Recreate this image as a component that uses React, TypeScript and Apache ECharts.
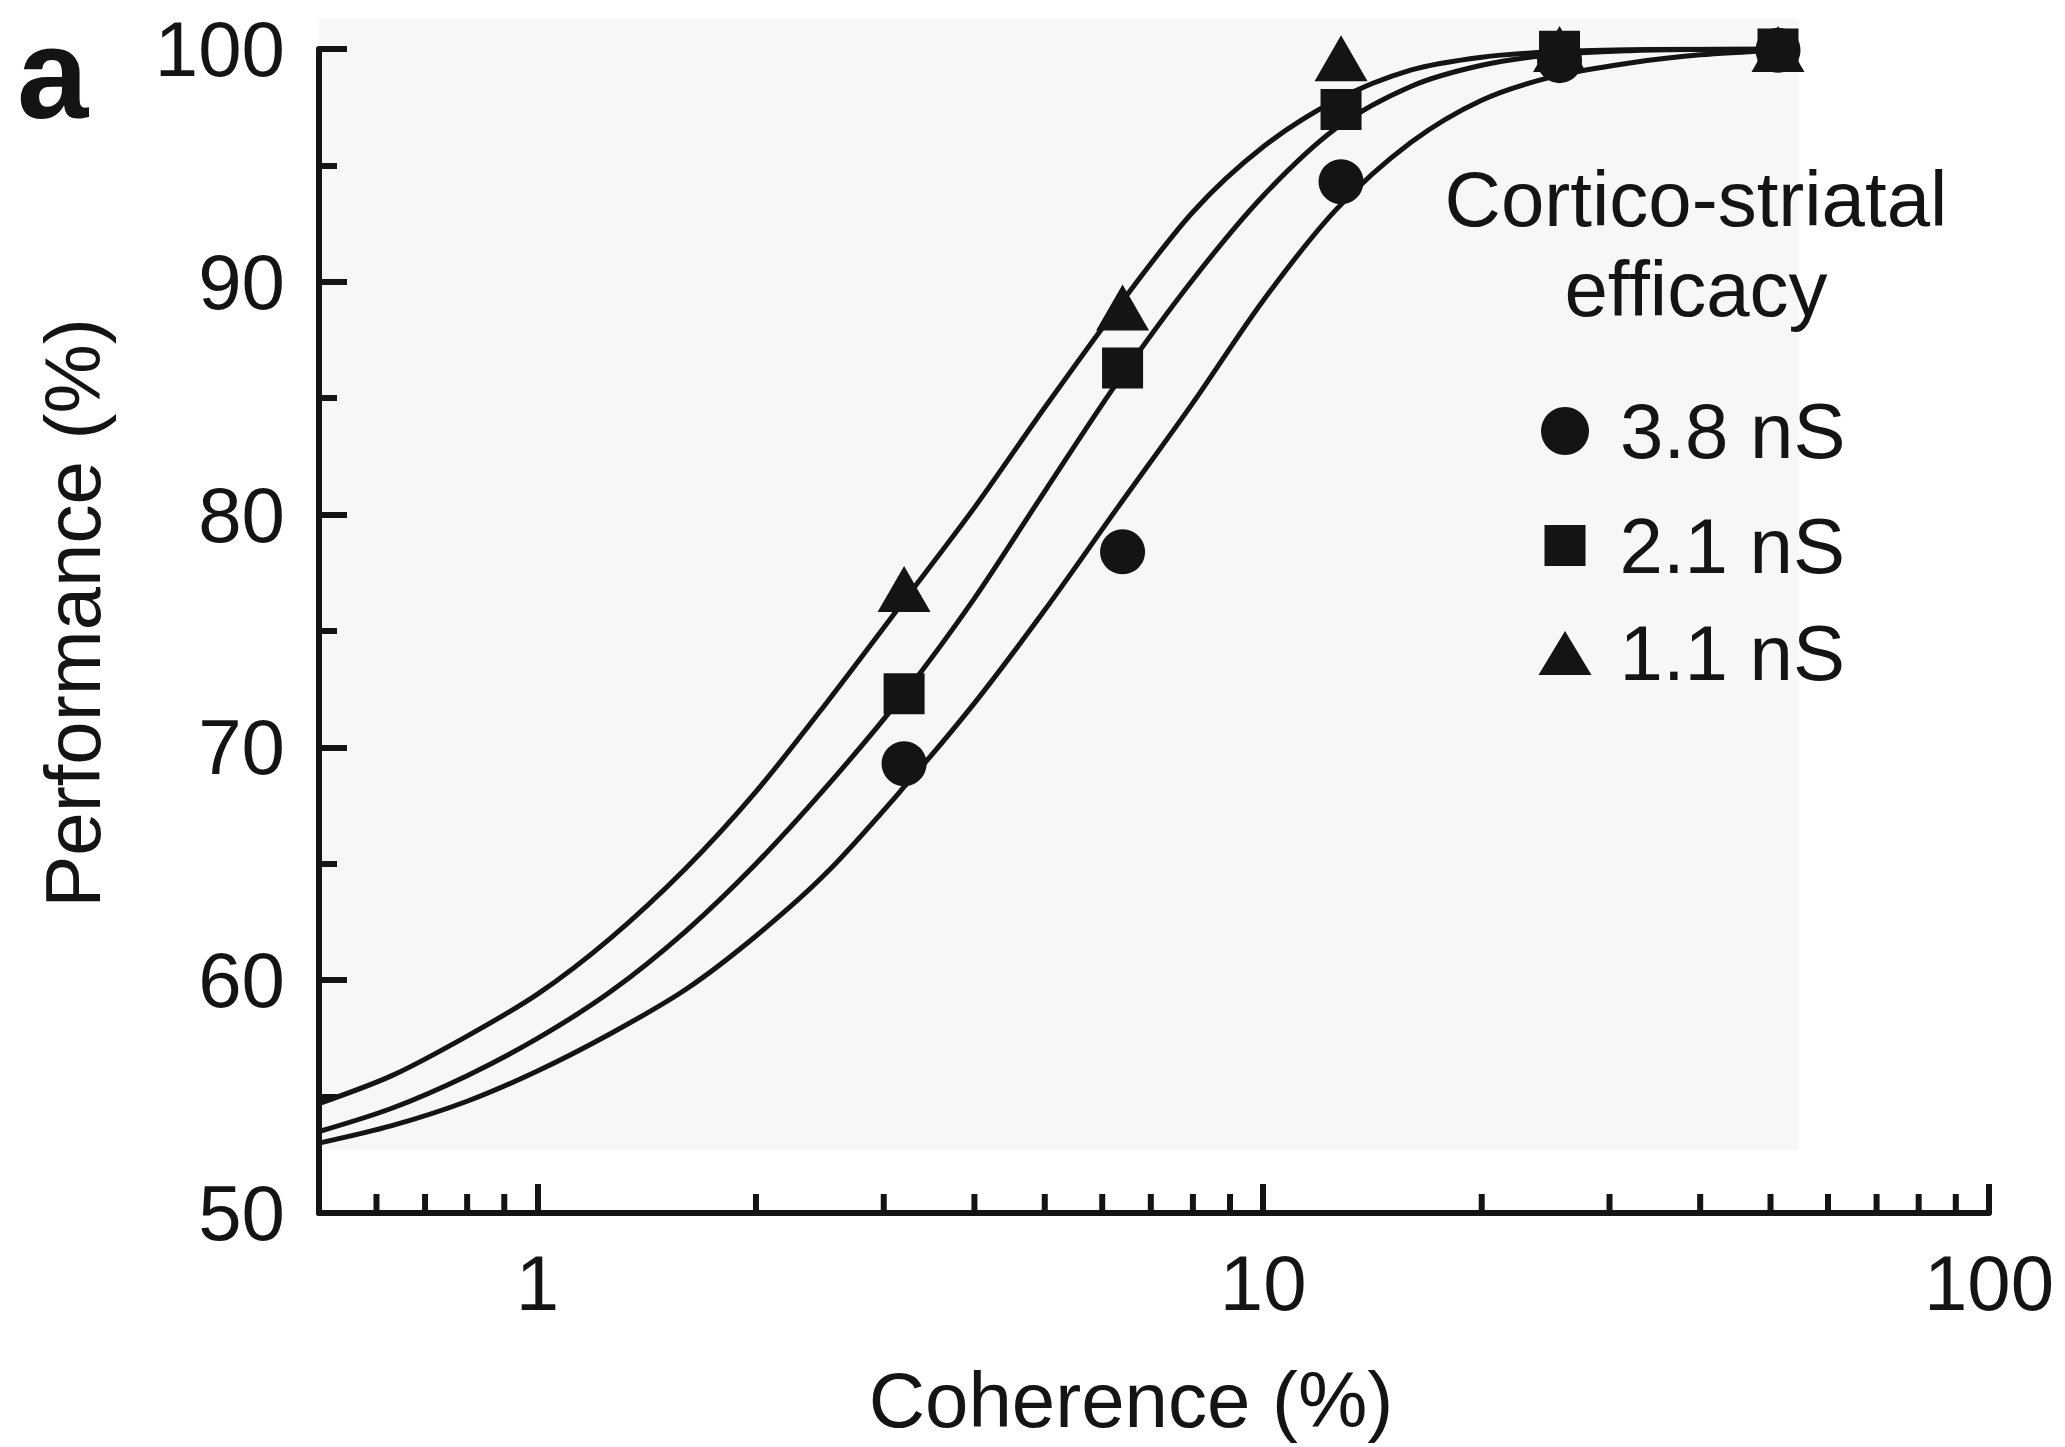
import React, { useEffect, useRef } from 'react';
import * as echarts from 'echarts';

// ---- data ----
const coherence = [3.2, 6.4, 12.8, 25.6, 51.2];
const perf38 = [69.3, 78.4, 94.3, 99.5, 99.95];
const perf21 = [72.3, 86.3, 97.4, 99.9, 100];
const perf11 = [76.8, 88.9, 99.6, 100, 100];

// fitted curves: points
const fitX = [0.5, 0.63, 0.8, 1, 1.26, 1.6, 2, 2.5, 3.2, 4, 5, 6.3, 8, 10, 12.6, 16, 20, 25, 32, 40, 51.2];
const fit11Y = [54.7, 55.9, 57.6, 59.4, 61.8, 64.8, 68.1, 71.9, 76.3, 80.3, 84.6, 88.9, 93.0, 95.8, 97.8, 99.1, 99.65, 99.88, 99.97, 99.99, 100];
const fit21Y = [53.5, 54.5, 55.9, 57.5, 59.5, 62.1, 65.0, 68.3, 72.3, 76.4, 81.0, 85.7, 90.1, 93.7, 96.6, 98.4, 99.3, 99.75, 99.93, 99.98, 100];
const fit38Y = [53.0, 53.75, 54.8, 56.1, 57.7, 59.6, 61.9, 64.6, 68.3, 71.9, 75.9, 80.3, 84.8, 89.2, 93.1, 96.0, 97.8, 98.8, 99.4, 99.75, 99.95];

const seriesNames = ['3.8 nS', '2.1 nS', '1.1 nS'];
const xMajorTicks = [1, 10, 100];
const xMinorTicks = [0.6, 0.7, 0.8, 0.9, 2, 3, 4, 5, 6, 7, 8, 9, 20, 30, 40, 50, 60, 70, 80, 90];
const yMin = 50;
const yMax = 100;
const yStep = 10;
const xMin = 0.5;
const xMax = 100;
// shaded panel: [x0, y0, x1, y1] in data units
const shadedRegion = [0.5, 52.7, 54.7, 101.3];

const FONT = '"Liberation Sans", Arial, Helvetica, sans-serif';
const INK = '#141414';

function pairs(xs: number[], ys: number[]) {
  return xs.map((x, i) => [x, ys[i]]);
}

export default function App() {
  const ref = useRef<HTMLDivElement>(null);
  useEffect(() => {
    if (!ref.current) return;
    const chart = echarts.init(ref.current, undefined, { renderer: 'svg' });
    const lineStyle = { color: INK, width: 6 };
    const curve = (xs: number[], ys: number[]) => ({
      type: 'line',
      data: pairs(xs, ys),
      smooth: 0.3,
      showSymbol: false,
      symbol: 'none',
      lineStyle: { color: INK, width: 5 },
      z: 3,
      silent: true,
    });
    const legendItem = (name: string, icon: string, w: number, h: number, cy: number, pad: number) => ({
      data: [{ name, icon }],
      orient: 'vertical',
      left: 1565 - w / 2,
      top: cy - h / 2 - 16,
      itemWidth: w,
      itemHeight: h,
      padding: 0,
      selectedMode: false,
      itemStyle: { color: INK, opacity: 1 },
      textStyle: { fontSize: 78, color: INK, fontFamily: FONT, padding: [0, 0, 0, pad] },
    });
    const markerStyle = { color: INK, opacity: 1 };
    const option: any = {
      animation: false,
      backgroundColor: '#ffffff',
      grid: { left: 319, right: 76, top: 49, bottom: 234 },
      xAxis: {
        type: 'log',
        logBase: 10,
        min: xMin,
        max: xMax,
        axisLine: { show: true, lineStyle },
        axisTick: { show: true, inside: true, length: 29, lineStyle, customValues: xMajorTicks },
        axisLabel: {
          show: true,
          customValues: xMajorTicks,
          formatter: (v: number) => String(Math.round(v)),
          fontSize: 78,
          color: INK,
          fontFamily: FONT,
          margin: 31,
        },
        splitLine: { show: false },
        minorTick: { show: false },
        minorSplitLine: { show: false },
        name: 'Coherence (%)',
        nameLocation: 'middle',
        nameGap: 148,
        nameTextStyle: { fontSize: 78, color: INK, fontFamily: FONT, padding: [0, 46, 0, 0] },
      },
      yAxis: {
        type: 'value',
        min: yMin,
        max: yMax,
        interval: yStep,
        axisLine: { show: true, lineStyle },
        axisTick: { show: true, inside: true, length: 28, lineStyle },
        minorTick: { show: true, splitNumber: 2, length: 18, lineStyle },
        splitLine: { show: false },
        minorSplitLine: { show: false },
        axisLabel: { fontSize: 78, color: INK, fontFamily: FONT, margin: 34 },
        name: 'Performance (%)',
        nameLocation: 'middle',
        nameGap: 207,
        nameRotate: 90,
        nameTextStyle: { fontSize: 78, color: INK, fontFamily: FONT, padding: [0, 0, 0, 36] },
      },
      legend: [
        legendItem(seriesNames[0], 'circle', 48, 48, 432, 26),
        legendItem(seriesNames[1], 'rect', 41, 41, 543, 29),
        legendItem(seriesNames[2], 'triangle', 53, 44, 652, 23),
      ],
      graphic: [
        {
          type: 'text',
          x: 17,
          y: 2,
          style: {
            text: 'a',
            fontSize: 128,
            lineHeight: 142,
            fontWeight: 'bold',
            fontFamily: FONT,
            fill: INK,
            align: 'left',
            verticalAlign: 'top',
          },
        },
        {
          type: 'text',
          x: 1696,
          y: 244,
          style: {
            text: 'Cortico-striatal\nefficacy',
            fontSize: 78,
            lineHeight: 90,
            fontFamily: FONT,
            fill: INK,
            align: 'center',
            verticalAlign: 'middle',
          },
        },
      ],
      series: [
        {
          type: 'custom',
          data: [shadedRegion],
          encode: { x: [0, 2], y: [1, 3] },
          clip: false,
          silent: true,
          z: -1,
          renderItem: (_p: any, api: any) => {
            const a = api.coord([api.value(0), api.value(1)]);
            const b = api.coord([api.value(2), api.value(3)]);
            return {
              type: 'rect',
              shape: { x: a[0], y: b[1], width: b[0] - a[0], height: a[1] - b[1] },
              style: { fill: '#f7f7f7' },
            };
          },
        },
        {
          type: 'custom',
          data: xMinorTicks.map((v) => [v, yMin]),
          encode: { x: 0, y: 1 },
          clip: false,
          silent: true,
          z: 1,
          renderItem: (_p: any, api: any) => {
            const p = api.coord([api.value(0), api.value(1)]);
            return {
              type: 'line',
              shape: { x1: p[0], y1: p[1], x2: p[0], y2: p[1] - 19 },
              style: { stroke: INK, lineWidth: 6 },
            };
          },
        },
        curve(fitX, fit11Y),
        curve(fitX, fit21Y),
        curve(fitX, fit38Y),
        {
          name: seriesNames[2],
          type: 'scatter',
          data: pairs(coherence, perf11),
          symbol: 'triangle',
          symbolSize: [53, 46],
          itemStyle: markerStyle,
          z: 4,
        },
        {
          name: seriesNames[1],
          type: 'scatter',
          data: pairs(coherence, perf21),
          symbol: 'rect',
          symbolSize: 41,
          itemStyle: markerStyle,
          z: 5,
        },
        {
          name: seriesNames[0],
          type: 'scatter',
          data: pairs(coherence, perf38),
          symbol: 'circle',
          symbolSize: 45,
          itemStyle: markerStyle,
          z: 6,
        },
      ],
    };
    chart.setOption(option);
    return () => chart.dispose();
  }, []);
  return (
    <div
      ref={ref}
      style={{ position: 'fixed', left: 0, top: 0, width: 2065, height: 1447, background: '#fff' }}
    />
  );
}
